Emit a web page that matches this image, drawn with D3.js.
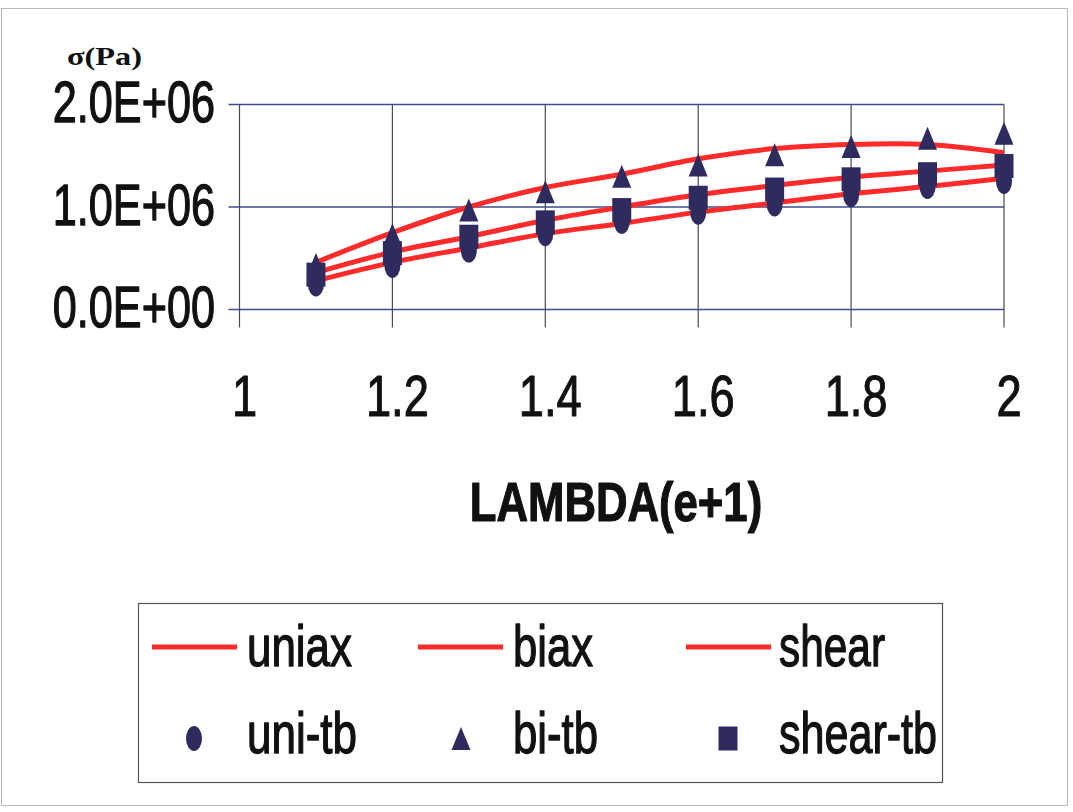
<!DOCTYPE html>
<html>
<head>
<meta charset="utf-8">
<script src="https://cdn.jsdelivr.net/npm/d3@7"></script>
<style>
  html, body { margin: 0; padding: 0; background: #fff; }
  svg { display: block; }
</style>
</head>
<body>
<svg id="chart" width="1073" height="812"></svg>
<script>
// Stretch ratio (lambda) at which each stress was evaluated
const lambda = [1.1, 1.2, 1.3, 1.4, 1.5, 1.6, 1.7, 1.8, 1.9, 2.0];

// Model curves, stress in Pa
const uniax = [280000, 460000, 600000, 740000, 840000, 950000, 1040000, 1130000, 1200000, 1280000];
const biax  = [460000, 750000, 1000000, 1190000, 1320000, 1470000, 1570000, 1610000, 1610000, 1530000];
const shear = [360000, 560000, 710000, 870000, 1000000, 1120000, 1210000, 1290000, 1350000, 1410000];

// Test-bench points, stress in Pa
const uniTb   = [250000, 430000, 580000, 740000, 860000, 950000, 1030000, 1120000, 1200000, 1250000];
const biTb    = [440000, 730000, 970000, 1150000, 1300000, 1410000, 1510000, 1590000, 1670000, 1720000];
const shearTb = [340000, 550000, 710000, 850000, 970000, 1090000, 1170000, 1270000, 1320000, 1400000];

const xTicks = [1, 1.2, 1.4, 1.6, 1.8, 2];
const xTickLabels = ["1", "1.2", "1.4", "1.6", "1.8", "2"];
const yTicks = [0, 1000000, 2000000];
const yTickLabels = ["0.0E+00", "1.0E+06", "2.0E+06"];

const lineNames = ["uniax", "biax", "shear"];
const pointNames = ["uni-tb", "bi-tb", "shear-tb"];

const RED = "#ff2b2b";
const NAVY = "#2e2b5e";
const INK = "#111";
const FONT = "'Liberation Sans', Arial, sans-serif";

const svg = d3.select("#chart");

// Narrow the glyph run of each text to a fraction of its natural width
function squeeze(sel, k) {
  sel.each(function () {
    const w = this.getComputedTextLength();
    d3.select(this).attr("textLength", w * k).attr("lengthAdjust", "spacingAndGlyphs");
  });
}

// Heavy outline so the condensed glyphs read as dense as printed type
function heavy(sel, w) {
  sel.attr("stroke", INK).attr("stroke-width", w).attr("stroke-linejoin", "round");
}

// Outer frame
svg.append("rect")
  .attr("x", 1.5).attr("y", 8.5).attr("width", 1066).attr("height", 797)
  .attr("fill", "none").attr("stroke", "#b8b8b8").attr("stroke-width", 1);

const x = d3.scaleLinear().domain([1, 2]).range([239.5, 1004]);
const y = d3.scaleLinear().domain([0, 2000000]).range([309.5, 104.5]);

// Grid lines (they run past the axes as tick marks)
svg.append("g").selectAll("line").data(xTicks).join("line")
  .attr("x1", d => x(d)).attr("x2", d => x(d))
  .attr("y1", y(2000000)).attr("y2", y(0) + 18)
  .attr("stroke", "#4a4a4a").attr("stroke-width", 1.2);

svg.append("g").selectAll("line").data(yTicks).join("line")
  .attr("x1", x(1) - 11).attr("x2", x(2))
  .attr("y1", d => y(d)).attr("y2", d => y(d))
  .attr("stroke", "#3d4d8c").attr("stroke-width", 1.3);

// Y tick labels
svg.append("g").selectAll("text").data(yTicks).join("text")
  .attr("x", 215).attr("y", d => y(d) + 17.5)
  .attr("text-anchor", "end")
  .attr("font-family", FONT).attr("font-size", 58).attr("fill", INK)
  .text((d, i) => yTickLabels[i])
  .call(squeeze, 0.745)
  .call(heavy, 1.3);

// X tick labels
svg.append("g").selectAll("text").data(xTicks).join("text")
  .attr("x", d => x(d) + 5).attr("y", 416)
  .attr("text-anchor", "middle")
  .attr("font-family", FONT).attr("font-size", 58).attr("fill", INK)
  .text((d, i) => xTickLabels[i])
  .call(squeeze, 0.78)
  .call(heavy, 1.1);

// Axis titles
svg.append("text")
  .attr("x", 67).attr("y", 65)
  .attr("font-family", "'Liberation Serif', 'Times New Roman', serif")
  .attr("font-weight", "bold").attr("font-size", 25).attr("fill", INK)
  .text("σ(Pa)")
  .attr("textLength", 75).attr("lengthAdjust", "spacingAndGlyphs");

svg.append("text")
  .attr("x", 616).attr("y", 521)
  .attr("text-anchor", "middle")
  .attr("font-family", FONT).attr("font-weight", "bold").attr("font-size", 56).attr("fill", INK)
  .text("LAMBDA(e+1)")
  .call(squeeze, 0.78)
  .call(heavy, 1.2);

// Smoothed model curves
const line = d3.line()
  .x((d, i) => x(lambda[i]))
  .y(d => y(d))
  .curve(d3.curveCatmullRom.alpha(0.5));

svg.append("g").selectAll("path").data([uniax, biax, shear]).join("path")
  .attr("d", d => line(d))
  .attr("fill", "none").attr("stroke", RED).attr("stroke-width", 5)
  .attr("stroke-linejoin", "round").attr("stroke-linecap", "butt");

// Marker shapes: tall ellipse, tall triangle, tall rectangle
const markerEllipse = (g) => g.append("ellipse").attr("rx", 8).attr("ry", 12.5).attr("fill", NAVY);
const markerTriangle = (g) => g.append("path").attr("d", "M0,-11.5L9.5,11.5L-9.5,11.5Z").attr("fill", NAVY);
const markerSquare = (g) => g.append("rect").attr("x", -9.5).attr("y", -12).attr("width", 19).attr("height", 24).attr("fill", NAVY);
const markers = [markerEllipse, markerTriangle, markerSquare];

[uniTb, biTb, shearTb].forEach((series, s) => {
  svg.append("g").selectAll("g").data(series).join("g")
    .attr("transform", (d, i) => `translate(${x(lambda[i])},${y(d)})`)
    .each(function () { markers[s](d3.select(this)); });
});

// Legend
const legend = svg.append("g");
legend.append("rect")
  .attr("x", 138.5).attr("y", 603.5).attr("width", 804).attr("height", 179)
  .attr("fill", "#fff").attr("stroke", "#555").attr("stroke-width", 1.2);

const colX = [152, 418, 686];
const textX = [247, 513, 779];
const lineWidths = [105, 80, 106];
const pointWidths = [110, 85, 158];

lineNames.forEach((name, i) => {
  legend.append("line")
    .attr("x1", colX[i]).attr("x2", colX[i] + 85)
    .attr("y1", 647).attr("y2", 647)
    .attr("stroke", RED).attr("stroke-width", 5);
  legend.append("text")
    .attr("x", textX[i]).attr("y", 666)
    .attr("font-family", FONT).attr("font-size", 57).attr("fill", INK)
    .attr("textLength", lineWidths[i]).attr("lengthAdjust", "spacingAndGlyphs")
    .text(name)
    .call(heavy, 1.3);
});

const markerX = [194, 461, 728];
pointNames.forEach((name, i) => {
  const g = legend.append("g").attr("transform", `translate(${markerX[i]},738.5)`);
  markers[i](g);
  legend.append("text")
    .attr("x", textX[i]).attr("y", 753)
    .attr("font-family", FONT).attr("font-size", 57).attr("fill", INK)
    .attr("textLength", pointWidths[i]).attr("lengthAdjust", "spacingAndGlyphs")
    .text(name)
    .call(heavy, 1.3);
});
</script>
</body>
</html>
